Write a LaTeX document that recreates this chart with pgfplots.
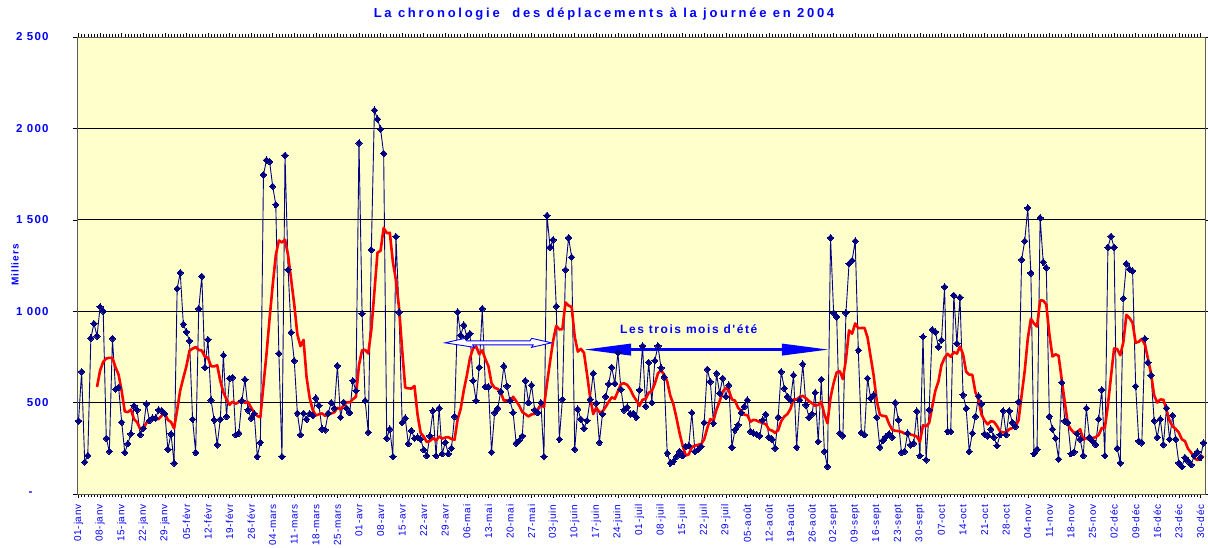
\documentclass[border=0pt]{standalone}
\usepackage{fontspec}
\setmainfont{Liberation Sans}
\newfontfamily\titlefont[LetterSpace=21]{Liberation Sans}
\newfontfamily\yfont[LetterSpace=10]{Liberation Sans}
\newfontfamily\xfont[LetterSpace=7]{Liberation Sans}
\newfontfamily\notefont[LetterSpace=13]{Liberation Sans}
\usepackage{pgfplots}
\pgfplotsset{compat=1.18}
\usetikzlibrary{arrows.meta}
\definecolor{bg}{RGB}{255,255,204}
\definecolor{navy}{RGB}{0,0,128}
\definecolor{tblue}{RGB}{0,0,255}
\definecolor{mared}{RGB}{255,0,0}
\begin{document}
\begin{tikzpicture}
\path[use as bounding box] (-77pt,-53pt) rectangle (1131pt,494pt);
\begin{axis}[
  at={(0pt,0pt)}, anchor=south west,
  scale only axis, width=1128pt, height=457pt,
  xmin=-0.5, xmax=365.5, ymin=0, ymax=2500,
  axis background/.style={fill=bg},
  axis line style={draw=gray!70!black, line width=0.9pt},
  xtick={0,7,...,364},
  xticklabels={01-janv,08-janv,15-janv,22-janv,29-janv,05-févr,12-févr,19-févr,26-févr,04-mars,11-mars,18-mars,25-mars,01-avr,08-avr,15-avr,22-avr,29-avr,06-mai,13-mai,20-mai,27-mai,03-juin,10-juin,17-juin,24-juin,01-juil,08-juil,15-juil,22-juil,29-juil,05-août,12-août,19-août,26-août,02-sept,09-sept,16-sept,23-sept,30-sept,07-oct,14-oct,21-oct,28-oct,04-nov,11-nov,18-nov,25-nov,02-déc,09-déc,16-déc,23-déc,30-déc},
  minor x tick num=6,
  ytick={0,500,...,2500},
  yticklabels={{-\hspace*{16pt}},500,1 000,1 500,2 000,2 500},
  ymajorgrids, major grid style={black, line width=0.7pt},
  tick align=outside,
  major tick length=4pt, minor tick length=3pt,
  tick style={black, line width=0.5pt},
  xticklabel style={rotate=90, anchor=east, font=\xfont\fontsize{10}{10}\selectfont, text=tblue},
  xticklabel shift=3pt,
  yticklabel style={anchor=east, xshift=-21pt, font=\yfont\bfseries\fontsize{11.5}{11.5}\selectfont, text=tblue},
  clip=false,
]
\addplot[navy, line width=0.9pt, mark=diamond*, mark size=3.2pt, mark options={xscale=1.3, navy, line width=0pt}] coordinates {
(0,400)(1,669)(2,175)(3,211)(4,853)(5,933)(6,864)(7,1024)(8,1000)(9,305)(10,233)(11,851)(12,573)(13,584)(14,393)(15,227)(16,275)(17,329)(18,482)(19,460)(20,324)(21,360)(22,493)(23,402)(24,415)(25,415)(26,460)(27,455)(28,440)(29,245)(30,329)(31,169)(32,1124)(33,1211)(34,929)(35,887)(36,838)(37,409)(38,227)(39,1014)(40,1191)(41,693)(42,845)(43,514)(44,405)(45,269)(46,409)(47,760)(48,424)(49,633)(50,638)(51,324)(52,333)(53,510)(54,627)(55,460)(56,415)(57,440)(58,205)(59,282)(60,1747)(61,1827)(62,1818)(63,1683)(64,1583)(65,769)(66,205)(67,1853)(68,1227)(69,884)(70,729)(71,442)(72,324)(73,442)(74,409)(75,440)(76,430)(77,525)(78,485)(79,355)(80,351)(81,442)(82,500)(83,469)(84,702)(85,420)(86,502)(87,469)(88,445)(89,620)(90,565)(91,1920)(92,987)(93,511)(94,338)(95,1336)(96,2100)(97,2051)(98,1996)(99,1863)(100,305)(101,355)(102,205)(103,1409)(104,995)(105,391)(106,415)(107,275)(108,347)(109,305)(110,311)(111,300)(112,242)(113,209)(114,318)(115,455)(116,209)(117,470)(118,220)(119,282)(120,220)(121,251)(122,424)(123,996)(124,869)(125,924)(126,860)(127,878)(128,620)(129,511)(130,693)(131,1014)(132,587)(133,587)(134,229)(135,445)(136,469)(137,560)(138,700)(139,591)(140,511)(141,445)(142,278)(143,293)(144,318)(145,620)(146,500)(147,596)(148,460)(149,445)(150,500)(151,205)(152,1524)(153,1350)(154,1391)(155,1027)(156,300)(157,518)(158,1227)(159,1402)(160,1296)(161,245)(162,464)(163,409)(164,360)(165,402)(166,518)(167,660)(168,496)(169,282)(170,438)(171,533)(172,602)(173,693)(174,605)(175,773)(176,573)(177,460)(178,475)(179,438)(180,442)(181,420)(182,569)(183,810)(184,480)(185,720)(186,500)(187,730)(188,810)(189,690)(190,640)(191,224)(192,169)(193,178)(194,205)(195,233)(196,209)(197,260)(198,264)(199,445)(200,233)(201,242)(202,260)(203,391)(204,682)(205,615)(206,387)(207,660)(208,551)(209,633)(210,533)(211,596)(212,256)(213,351)(214,378)(215,445)(216,478)(217,514)(218,342)(219,333)(220,327)(221,318)(222,405)(223,436)(224,311)(225,300)(226,251)(227,420)(228,669)(229,578)(230,533)(231,514)(232,651)(233,256)(234,514)(235,711)(236,487)(237,420)(238,438)(239,555)(240,287)(241,627)(242,233)(243,151)(244,1402)(245,991)(246,969)(247,333)(248,318)(249,991)(250,1260)(251,1278)(252,1384)(253,787)(254,336)(255,324)(256,633)(257,524)(258,542)(259,420)(260,256)(261,293)(262,315)(263,329)(264,311)(265,500)(266,405)(267,227)(268,233)(269,333)(270,269)(271,278)(272,453)(273,209)(274,860)(275,187)(276,460)(277,900)(278,887)(279,805)(280,842)(281,1133)(282,342)(283,342)(284,1087)(285,824)(286,1076)(287,542)(288,469)(289,233)(290,333)(291,424)(292,536)(293,493)(294,329)(295,318)(296,355)(297,311)(298,264)(299,324)(300,455)(301,324)(302,455)(303,391)(304,369)(305,505)(306,1282)(307,1384)(308,1565)(309,1209)(310,220)(311,245)(312,1511)(313,1269)(314,1238)(315,424)(316,355)(317,305)(318,191)(319,610)(320,400)(321,390)(322,220)(323,230)(324,330)(325,300)(326,210)(327,470)(328,310)(329,290)(330,270)(331,410)(332,570)(333,210)(334,1350)(335,1410)(336,1350)(337,250)(338,170)(339,1070)(340,1260)(341,1230)(342,1220)(343,590)(344,290)(345,280)(346,850)(347,720)(348,650)(349,400)(350,310)(351,410)(352,270)(353,470)(354,300)(355,430)(356,300)(357,170)(358,150)(359,200)(360,180)(361,160)(362,210)(363,230)(364,200)(365,280)
};
\addplot[mared, line width=2.6pt, no marks, line join=round] coordinates {
(6,586)(7,676)(8,723)(9,741)(10,745)(11,744)(12,693)(13,653)(14,563)(15,452)(16,448)(17,462)(18,409)(19,393)(20,356)(21,351)(22,389)(23,407)(24,419)(25,410)(26,410)(27,429)(28,440)(29,405)(30,394)(31,359)(32,460)(33,568)(34,635)(35,699)(36,784)(37,795)(38,804)(39,788)(40,785)(41,751)(42,745)(43,699)(44,698)(45,704)(46,618)(47,556)(48,518)(49,488)(50,505)(51,494)(52,503)(53,517)(54,498)(55,504)(56,472)(57,444)(58,427)(59,420)(60,597)(61,768)(62,962)(63,1143)(64,1306)(65,1387)(66,1376)(67,1391)(68,1305)(69,1172)(70,1036)(71,873)(72,809)(73,843)(74,637)(75,524)(76,459)(77,430)(78,436)(79,441)(80,428)(81,433)(82,441)(83,447)(84,472)(85,463)(86,484)(87,501)(88,501)(89,518)(90,532)(91,706)(92,787)(93,788)(94,769)(95,897)(96,1108)(97,1320)(98,1331)(99,1456)(100,1427)(101,1429)(102,1268)(103,1169)(104,1018)(105,789)(106,582)(107,578)(108,577)(109,591)(110,434)(111,335)(112,314)(113,284)(114,290)(115,306)(116,292)(117,315)(118,303)(119,309)(120,311)(121,301)(122,297)(123,409)(124,466)(125,567)(126,649)(127,743)(128,796)(129,808)(130,765)(131,786)(132,738)(133,699)(134,606)(135,581)(136,575)(137,556)(138,511)(139,512)(140,501)(141,532)(142,508)(143,483)(144,448)(145,437)(146,424)(147,436)(148,438)(149,462)(150,491)(151,475)(152,604)(153,726)(154,839)(155,920)(156,900)(157,902)(158,1048)(159,1031)(160,1023)(161,859)(162,779)(163,794)(164,772)(165,654)(166,528)(167,437)(168,473)(169,447)(170,451)(171,476)(172,504)(173,529)(174,521)(175,561)(176,602)(177,606)(178,597)(179,574)(180,538)(181,512)(182,482)(183,516)(184,519)(185,554)(186,563)(187,604)(188,660)(189,677)(190,653)(191,616)(192,538)(193,492)(194,417)(195,334)(196,265)(197,211)(198,217)(199,256)(200,264)(201,269)(202,273)(203,299)(204,360)(205,410)(206,401)(207,462)(208,507)(209,560)(210,580)(211,568)(212,517)(213,511)(214,471)(215,456)(216,434)(217,431)(218,395)(219,406)(220,402)(221,394)(222,388)(223,382)(224,353)(225,347)(226,335)(227,349)(228,399)(229,424)(230,437)(231,466)(232,517)(233,517)(234,531)(235,537)(236,524)(237,508)(238,497)(239,483)(240,487)(241,504)(242,435)(243,387)(244,528)(245,607)(246,666)(247,672)(248,628)(249,736)(250,895)(251,877)(252,933)(253,907)(254,908)(255,909)(256,857)(257,752)(258,647)(259,509)(260,434)(261,427)(262,426)(263,383)(264,352)(265,346)(266,344)(267,340)(268,331)(269,334)(270,325)(271,321)(272,314)(273,286)(274,376)(275,370)(276,388)(277,478)(278,565)(279,615)(280,706)(281,745)(282,767)(283,750)(284,777)(285,768)(286,807)(287,764)(288,669)(289,653)(290,652)(291,557)(292,516)(293,433)(294,402)(295,381)(296,398)(297,395)(298,372)(299,342)(300,337)(301,336)(302,355)(303,361)(304,369)(305,403)(306,540)(307,673)(308,850)(309,958)(310,933)(311,916)(312,1059)(313,1058)(314,1037)(315,874)(316,752)(317,764)(318,756)(319,627)(320,503)(321,382)(322,353)(323,335)(324,339)(325,354)(326,297)(327,307)(328,296)(329,306)(330,311)(331,323)(332,361)(333,361)(334,487)(335,644)(336,796)(337,793)(338,759)(339,830)(340,980)(341,963)(342,936)(343,827)(344,833)(345,849)(346,817)(347,740)(348,657)(349,540)(350,500)(351,517)(352,516)(353,461)(354,401)(355,370)(356,356)(357,336)(358,299)(359,289)(360,247)(361,227)(362,196)(363,186)(364,190)(365,209)
};
% annotations
\draw[tblue, line width=0.9pt, fill=white] (axis cs:118.9,827) -- ++(20pt,4.5pt) -- ++(0,-2.5pt) -- ++(62pt,0) -- ++(0,2.5pt) -- ++(20pt,-4.5pt) -- ++(-20pt,-4.5pt) -- ++(0,2.5pt) -- ++(-62pt,0) -- ++(0,-2.5pt) -- cycle;
\draw[tblue, line width=3.5pt, {Triangle[length=48pt,width=11pt]}-{Triangle[length=48pt,width=11pt]}] (axis cs:163.7,790) -- (axis cs:243.8,790);
\node[font=\notefont\bfseries\fontsize{12}{12}\selectfont, text=tblue] at (axis cs:198,900) {Les trois mois d'été};
\draw[gray!70!black, line width=0.9pt] (rel axis cs:0,1) -- (rel axis cs:1,1);
\end{axis}
\node[font=\titlefont\bfseries\fontsize{13}{13}\selectfont, text=tblue] at (527pt,480pt) {La chronologie\ \ des déplacements à la journée en 2004};
\node[rotate=90, font=\yfont\bfseries\fontsize{10}{10}\selectfont, text=tblue] at (-62pt,229pt) {Milliers};
\end{tikzpicture}
\end{document}
